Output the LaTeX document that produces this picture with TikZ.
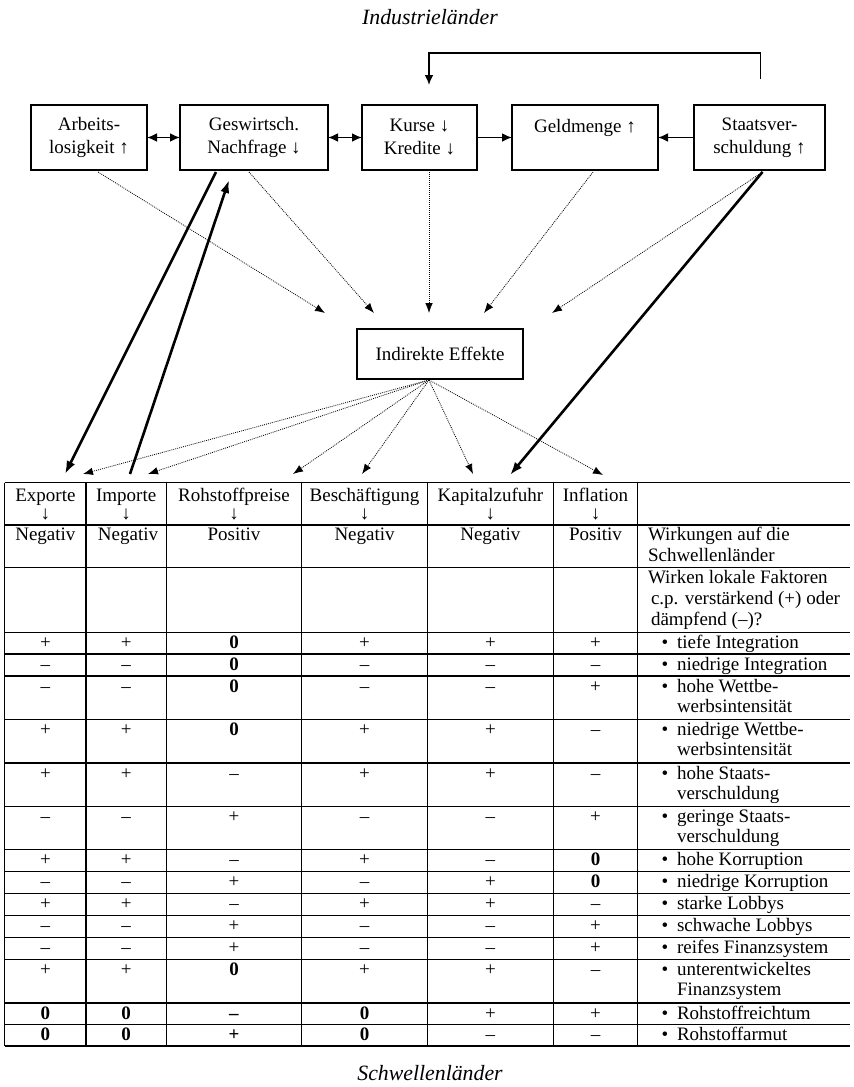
\documentclass[tikz,border=0pt]{standalone}
\usepackage{fontspec}
\setmainfont{Liberation Serif}
\usetikzlibrary{arrows.meta,calc}
\begin{document}
\begin{tikzpicture}[x=0.5pt,y=-0.5pt,
  every node/.style={inner sep=0pt, outer sep=0pt, font=\fontsize{9.5}{11.5}\selectfont},
  box/.style={draw, line width=1pt, align=center, anchor=north west, minimum height=32.5pt},
  title/.style={font=\itshape\fontsize{10.9}{13}\selectfont, anchor=base},
  harrow/.style={line width=0.8pt, -{Latex[length=5pt,width=4.4pt]}},
  dbl/.style={line width=0.8pt, {Latex[length=5pt,width=4.4pt]}-{Latex[length=5pt,width=4.4pt]}},
  thickarr/.style={line width=1.3pt, -{Latex[length=6.5pt,width=4.6pt]}},
  dots/.style={line width=0.4pt, dash pattern=on 0.45pt off 0.55pt, -{Latex[length=5pt,width=3.8pt]}},
  tab/.style={line width=0.6pt},
  cell/.style={anchor=base},
  lab/.style={anchor=base west}
]
\useasboundingbox (0,0) rectangle (854,1087);

% titles
\node[title] (ti) at (430,24) {Industrieländer};
\node[title] (tb) at (430,1080) {Schwellenländer};

% top boxes
\node[box, minimum width=58pt] (b1) at (31,105) {Arbeits-\\losigkeit ↑};
\node[box, minimum width=74pt] (b2) at (180,105) {Geswirtsch.\\Nachfrage ↓};
\node[box, minimum width=57.5pt] (b3) at (362,105) {Kurse ↓\\Kredite ↓};
\node[box, minimum width=73pt] (b4) at (512,105) {Geldmenge ↑\\\mbox{}};
\node[box, minimum width=65.5pt] (b5) at (694,105) {Staatsver-\\schuldung ↑};

\draw[dbl] (b1.east) -- (b2.west);
\draw[dbl] (b2.east) -- (b3.west);
\draw[harrow] (b3.east) -- (b4.west);
\draw[harrow] (b5.west) -- (b4.east);

% feedback loop
\coordinate (fbs) at ($(b5.north)+(1,-26)$);
\coordinate (fbe) at ($(b3.north)+(9.5,-20)$);
\draw[harrow] (fbs) -- ++(0,-26) -| (fbe);

% indirect effects box
\node[draw, line width=1pt, minimum width=83pt, minimum height=25pt, anchor=north west] (ie) at (357,329) {Indirekte Effekte};

% dotted arrows into indirect effects
\draw[dots] ($(b1.south)+(9,2)$) -- ($(ie.north)+(-115,-16)$);
\draw[dots] ($(b2.south)+(-5,2)$) -- ($(ie.north)+(-66,-16)$);
\draw[dots] ($(b3.south)+(9.5,2)$) -- ($(ie.north)+(-11,-16)$);
\draw[dots] ($(b4.south)+(8,2)$) -- ($(ie.north)+(44,-16)$);
\draw[dots] ($(b5.south)+(3,2)$) -- ($(ie.north)+(112,-16)$);

% targets above the table
\coordinate (tEx) at (65,474);
\coordinate (tExd) at (83,474);
\coordinate (tImb) at (130,474);
\coordinate (tImd) at (148,474);
\coordinate (tRo) at (293,474);
\coordinate (tBe) at (362,474);
\coordinate (tKa) at (473,474);
\coordinate (tKab) at (510,475);
\coordinate (tIn) at (603,475);

% dotted arrows out of indirect effects
\coordinate (ies) at ($(ie.south)+(-11,1)$);
\foreach \t in {tExd,tImd,tRo,tBe,tKa,tIn}
  \draw[dots] (ies) -- (\t);

% thick arrows
\draw[thickarr] ($(b2.south)+(-38,2)$) -- (tEx);
\draw[thickarr] (tImb) -- ($(b2.south)+(-25,10)$);
\draw[thickarr] ($(b5.south)+(3,2)$) -- (tKab);

% table lines
\foreach \y in {482.5,525,567.5,632.5,654,676,719.5,763,806.5,849.5,871.5,893.5,915.5,937.5,959.5,1003,1024.5,1046}
  \draw[tab] (4.7,\y) -- (850,\y);
\foreach \x in {4.7,86,166.3,301.7,427.5,553.3,637.7}
  \draw[tab] (\x,482.5) -- (\x,1046);

% header
\foreach \n/\x/\t in {1/45.4/Exporte,2/126.2/Importe,3/234/Rohstoffpreise,4/364.6/Beschäftigung,5/490.4/Kapitalzufuhr,6/595.5/Inflation}{
  \node[cell] (h\n) at (\x,501.5) {\t};
  \node[cell] (ha\n) at (\x,519) {↓};
}
\foreach \n/\x/\t in {1/45.4/Negativ,2/128/Negativ,3/234/Positiv,4/364.6/Negativ,5/490.4/Negativ,6/595.5/Positiv}
  \node[cell] (r\n) at (\x,540.5) {\t};
\node[lab] (w1) at (648,540.5) {Wirkungen auf die};
\node[lab] (w2) at (648,561) {Schwellenländer};
\node[lab] (w3) at (648,583) {Wirken lokale Faktoren};
\node[lab] (w4) at (651,604.5) {c.p. verstärkend (+) oder};
\node[lab] (w5) at (651,625) {dämpfend (–)?};

% data rows
\foreach \r/\y/\a/\b/\c/\d/\e/\f in {
  1/632.5/+/+/\textbf{0}/+/+/+,
  2/654/–/–/\textbf{0}/–/–/–,
  3/676/–/–/\textbf{0}/–/–/+,
  4/719.5/+/+/\textbf{0}/+/+/–,
  5/763/+/+/–/+/+/–,
  6/806.5/–/–/+/–/–/+,
  7/849.5/+/+/–/+/–/\textbf{0},
  8/871.5/–/–/+/–/+/\textbf{0},
  9/893.5/+/+/–/+/+/–,
  10/915.5/–/–/+/–/–/+,
  11/937.5/–/–/+/–/–/+,
  12/959.5/+/+/\textbf{0}/+/+/–,
  13/1003/\textbf{0}/\textbf{0}/\textbf{–}/\textbf{0}/+/+,
  14/1024.5/\textbf{0}/\textbf{0}/\textbf{+}/\textbf{0}/–/–}{
  \node[cell] (s\r a) at (45.4,\y+16) {\a};
  \node[cell] (s\r b) at (126.2,\y+16) {\b};
  \node[cell] (s\r c) at (234,\y+16) {\c};
  \node[cell] (s\r d) at (364.6,\y+16) {\d};
  \node[cell] (s\r e) at (490.4,\y+16) {\e};
  \node[cell] (s\r f) at (595.5,\y+16) {\f};
  \node[cell] (bu\r) at (665,\y+16) {•};
}

% row labels
\foreach \r/\y/\t in {1/632.5/tiefe Integration,2/654/niedrige Integration,3/676/hohe Wettbe-,4/719.5/niedrige Wettbe-,5/763/hohe Staats-,6/806.5/geringe Staats-,7/849.5/hohe Korruption,8/871.5/niedrige Korruption,9/893.5/starke Lobbys,10/915.5/schwache Lobbys,11/937.5/reifes Finanzsystem,12/959.5/unterentwickeltes,13/1003/Rohstoffreichtum,14/1024.5/Rohstoffarmut}
  \node[lab] (l\r) at (677,\y+16) {\t};
\foreach \r/\y/\t in {3/676/werbsintensität,4/719.5/werbsintensität,5/763/verschuldung,6/806.5/verschuldung,12/959.5/Finanzsystem}
  \node[lab] (m\r) at (677,\y+36) {\t};
\end{tikzpicture}
\end{document}
